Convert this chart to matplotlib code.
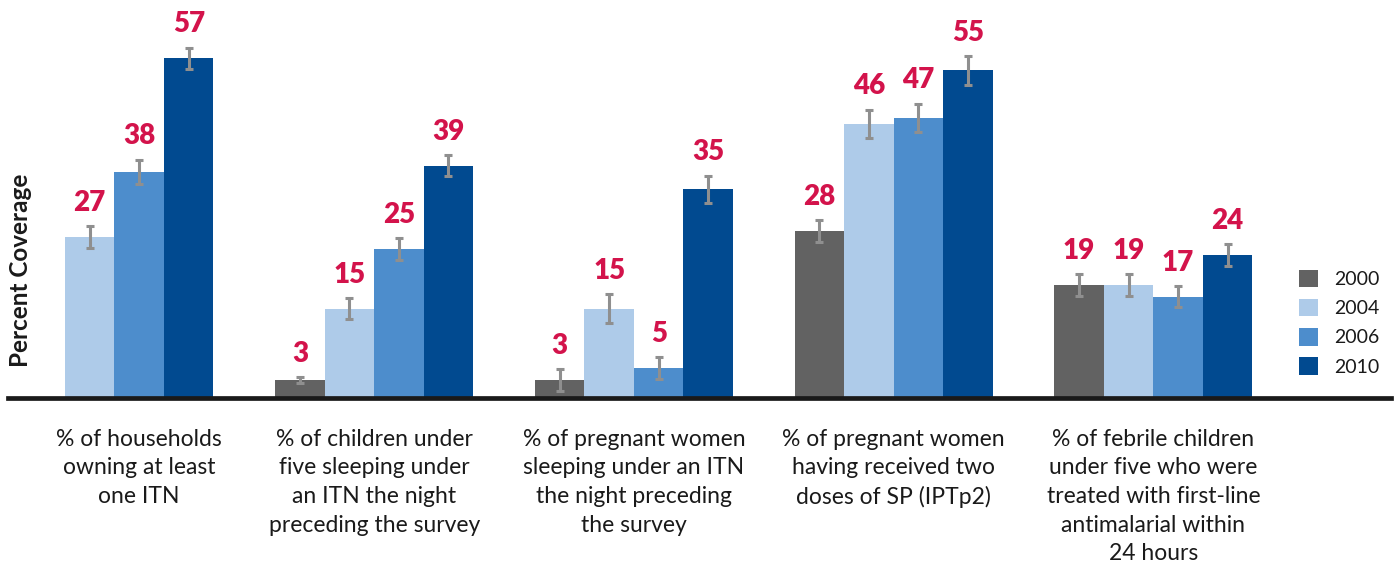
import matplotlib
matplotlib.use('Agg')
import matplotlib.pyplot as plt
import numpy as np

plt.rcParams['font.family'] = ['Lato', 'DejaVu Sans']

categories = [
    "% of households\nowning at least\none ITN",
    "% of children under\nfive sleeping under\nan ITN the night\npreceding the survey",
    "% of pregnant women\nsleeping under an ITN\nthe night preceding\nthe survey",
    "% of pregnant women\nhaving received two\ndoses of SP (IPTp2)",
    "% of febrile children\nunder five who were\ntreated with first-line\nantimalarial within\n24 hours",
]
years = ["2000", "2004", "2006", "2010"]

# values per year (nan = no survey)
v2000 = [np.nan, 3, 3, 28, 19]
v2004 = [27, 15, 15, 46, 19]
v2006 = [38, 25, 5, 47, 17]
v2010 = [57, 39, 35, 55, 24]

# error bar half-widths
e2000 = [np.nan, 0.5, 1.8, 1.8, 1.8]
e2004 = [1.8, 1.8, 2.4, 2.4, 1.8]
e2006 = [2.0, 1.8, 1.8, 2.4, 1.8]
e2010 = [1.8, 1.8, 2.3, 2.4, 1.8]

colors = ['#626262', '#aecbe9', '#4d8dcc', '#014a90']
label_red = '#d3134b'
err_grey = '#8f8f8f'

values = [v2000, v2004, v2006, v2010]
errors = [e2000, e2004, e2006, e2010]

fig = plt.figure(figsize=(13.95, 5.77), dpi=100)
ax = fig.add_axes([8 / 1395, 1 - 398 / 577, 1383 / 1395, 398 / 577])

x = np.arange(len(categories))
w = 0.1906

for j, (yr, vals, errs, c) in enumerate(zip(years, values, errors, colors)):
    xs = x + (j - 1.5) * w
    ax.bar(xs, vals, width=w, color=c, label=yr, zorder=2)
    ax.errorbar(xs, vals, yerr=errs, fmt='none', ecolor=err_grey,
                elinewidth=2.2, capsize=3.2, capthick=2.2, zorder=3)
    for xi, v, e in zip(xs, vals, errs):
        if np.isnan(v):
            continue
        ax.annotate(f"{v:.0f}", (xi, v + e), xytext=(0, 11), textcoords='offset points',
                    ha='center', va='baseline', fontsize=20, fontweight='heavy',
                    color=label_red)

# category labels centred on the bars present in each group
for i, cat in enumerate(categories):
    present = [x[i] + (j - 1.5) * w for j in range(4) if not np.isnan(values[j][i])]
    ax.annotate(cat, (np.mean(present), 0), xytext=(0, -22), textcoords='offset points',
                ha='center', va='top', fontsize=16.5, color='#1a1a1a',
                linespacing=1.45, annotation_clip=False)

ax.axhline(0, color='#1a1a1a', linewidth=3.4, zorder=4, clip_on=False)
ax.set_ylim(0, 66.8)
ax.set_xlim(-0.41, 4.915)
ax.set_xticks([])
ax.set_yticks([])
for s in ax.spines.values():
    s.set_visible(False)

fig.text(21 / 1395, 1 - 270 / 577, "Percent Coverage", rotation=90, ha='center',
         va='center', fontsize=17.5, fontweight='bold', color='#1a1a1a')

leg = ax.legend(loc='upper left', bbox_to_anchor=(1299 / 1395, 1 - 270 / 577),
                bbox_transform=fig.transFigure, frameon=False, fontsize=14,
                handlelength=1.0, handleheight=1.0, handletextpad=0.8,
                labelspacing=0.55, borderaxespad=0, borderpad=0)
for t in leg.get_texts():
    t.set_color('#1a1a1a')

fig.savefig('out.png', dpi=100)
